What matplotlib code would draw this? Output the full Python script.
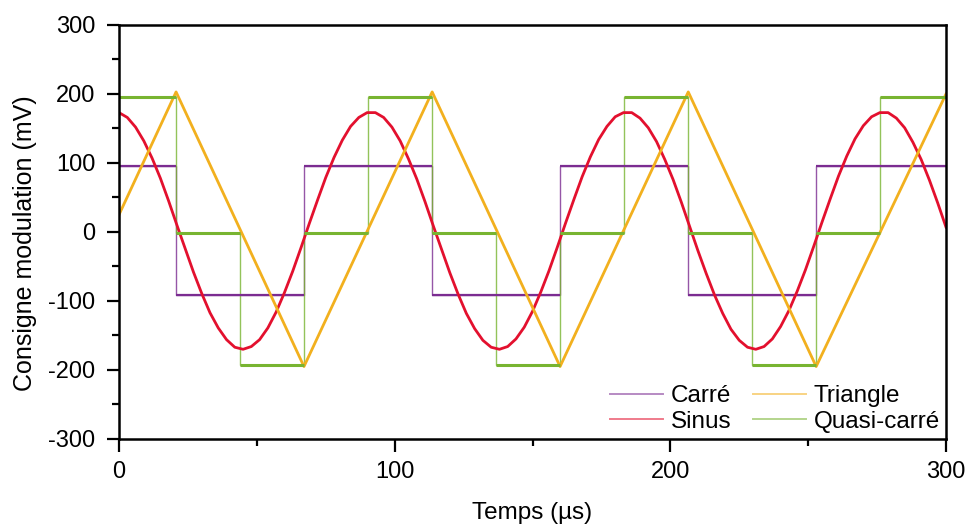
import matplotlib
matplotlib.use("Agg")
import matplotlib.pyplot as plt
from matplotlib.ticker import MultipleLocator
from matplotlib.lines import Line2D
import numpy as np

plt.rcParams['font.family'] = ['Liberation Sans', 'DejaVu Sans']
plt.rcParams['axes.unicode_minus'] = False

# Carré (square) : transition times (µs) and levels (mV)
carre_t = [0, 20.7, 67.1, 113.6, 160.0, 206.5, 252.9, 300]
carre_v = [95, -91, 95, -91, 95, -91, 95]

# Quasi-carré : transition times and levels
quasi_t = [0, 20.7, 43.9, 67.1, 90.3, 113.6, 136.8, 160.0, 183.2, 206.5, 229.7, 252.9, 276.1, 300]
quasi_v = [196, -1, -193, -1, 196, -1, -193, -1, 196, -1, -193, -1, 196]

# Triangle : vertices
tri_t = [0, 20.7, 67.1, 113.6, 160.0, 206.5, 252.9, 300]
tri_v = [25, 203, -195, 203, -195, 203, -195, 200]

# Sinus : samples read every 3 µs from 0 to 300
sin_t = list(range(0, 301, 3))
sin_v = [173, 166, 152, 132, 107, 78, 45, 10, -24, -58,
         -89, -117, -139, -156, -167, -170, -166, -156, -139, -116,
         -88, -57, -23, 12, 46, 79, 108, 133, 153, 166,
         173, 173, 166, 152, 132, 106, 77, 44, 9, -25,
         -59, -90, -118, -140, -157, -167, -170, -166, -155, -138,
         -115, -87, -56, -22, 13, 47, 80, 109, 134, 153,
         167, 173, 173, 165, 151, 131, 105, 76, 43, 8,
         -27, -60, -91, -118, -141, -157, -167, -170, -166, -155,
         -137, -114, -86, -55, -21, 14, 48, 81, 110, 135,
         154, 167, 173, 173, 165, 151, 130, 105, 75, 42,
         7]

labels = ['Carré', 'Sinus', 'Triangle', 'Quasi-carré']
colors = ['#7B2C91', '#E3102E', '#F2B01E', '#78B431']

fig = plt.figure(figsize=(9.66, 5.26), dpi=100)
ax = fig.add_axes([0.1232, 0.1654, 0.8561, 0.7871])

# Carré: thin transitions, slightly thicker levels
ax.stairs(carre_v, carre_t, color=colors[0], lw=1.0, alpha=0.8, baseline=None)
ax.hlines(carre_v, carre_t[:-1], carre_t[1:], color=colors[0], lw=1.6)
ax.plot(sin_t, sin_v, color=colors[1], lw=2.0)
ax.plot(tri_t, tri_v, color=colors[2], lw=2.0)
ax.stairs(quasi_v, quasi_t, color=colors[3], lw=1.0, alpha=0.8, baseline=None)
ax.hlines(quasi_v, quasi_t[:-1], quasi_t[1:], color=colors[3], lw=2.2)

handles = [Line2D([], [], color=c, lw=1.4, alpha=0.55) for c in colors]
ax.legend(handles, labels, ncol=2, loc='lower right', frameon=False,
          fontsize=17.5, handlelength=2.2, columnspacing=0.9,
          handletextpad=0.3, labelspacing=0.15, borderaxespad=0.05,
          borderpad=0.2)

ax.set_xlim(0, 300)
ax.set_ylim(-300, 300)
ax.xaxis.set_major_locator(MultipleLocator(100))
ax.xaxis.set_minor_locator(MultipleLocator(50))
ax.yaxis.set_major_locator(MultipleLocator(100))
ax.yaxis.set_minor_locator(MultipleLocator(50))
ax.tick_params(which='major', direction='out', length=9, width=1.6, labelsize=17)
ax.tick_params(which='minor', direction='out', length=5, width=1.6)
ax.tick_params(axis='x', which='major', pad=7)
ax.tick_params(axis='y', which='major', pad=8)
for s in ax.spines.values():
    s.set_linewidth(1.8)

ax.set_xlabel('Temps (µs)', fontsize=17.5)
ax.xaxis.set_label_coords(0.5, -0.152)
ax.set_ylabel('Consigne modulation (mV)', fontsize=18)
ax.yaxis.set_label_coords(-0.099, 0.473)

fig.savefig('out.png', dpi=100)
